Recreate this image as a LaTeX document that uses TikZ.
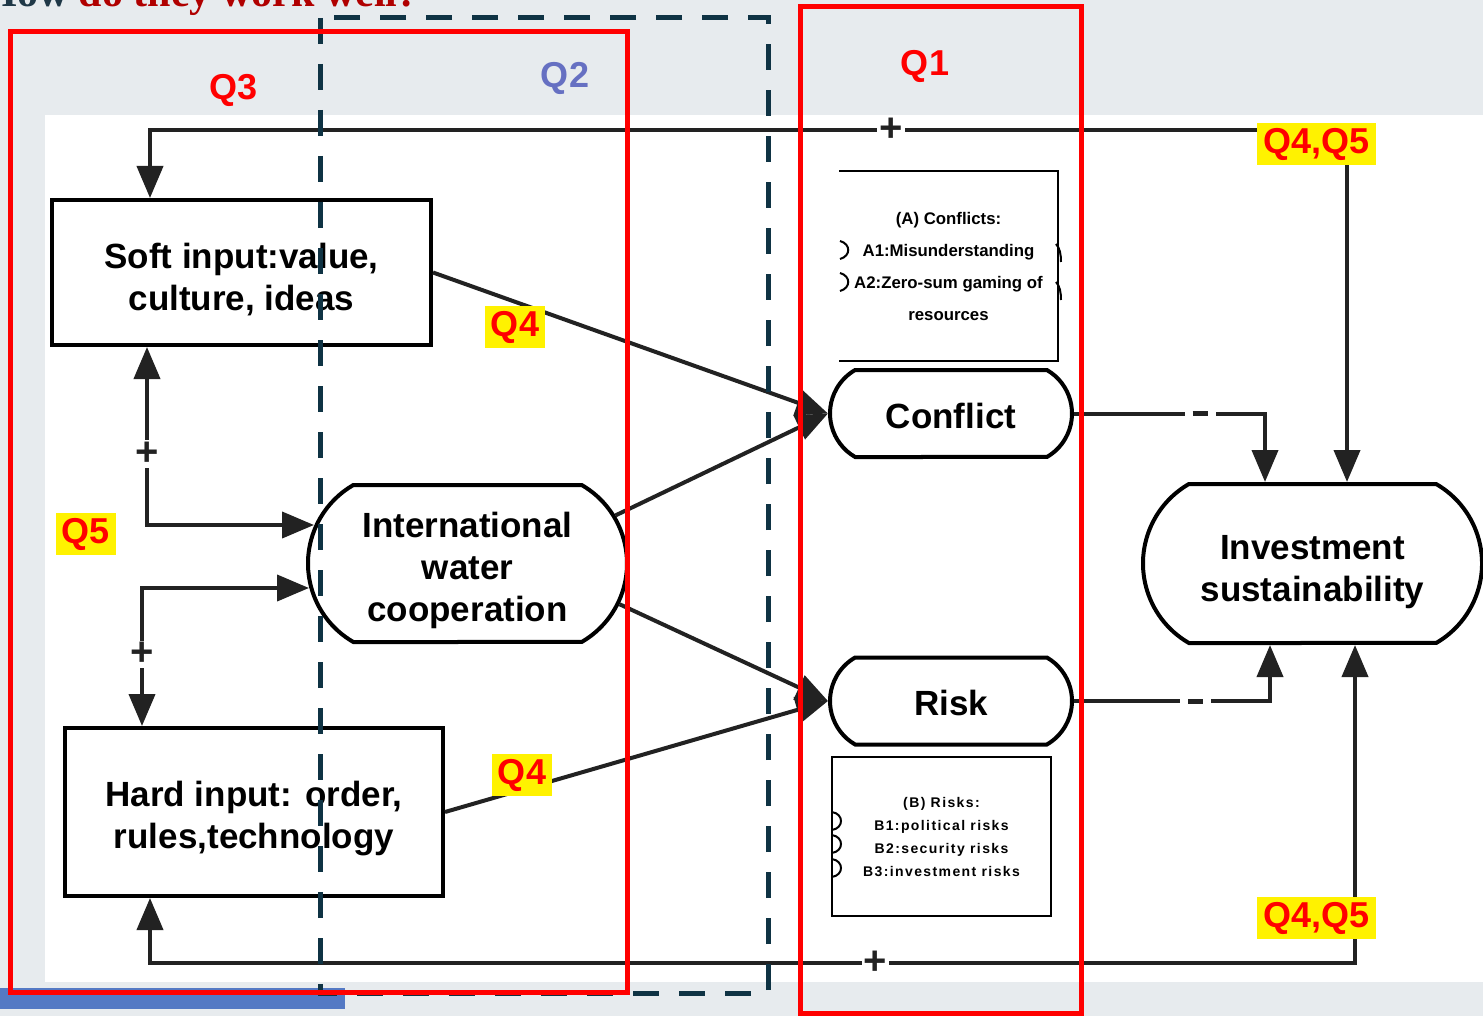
\documentclass[tikz,border=0pt]{standalone}
\usepackage{fontspec}
\setmainfont{Liberation Sans}
\newfontfamily\titleserif{Liberation Serif}
\newfontfamily\spacedsans[LetterSpace=10]{Liberation Sans}
\usetikzlibrary{shapes.misc,arrows.meta,calc}
\definecolor{bggray}{HTML}{E7EBEE}
\definecolor{navyd}{HTML}{0F3344}
\definecolor{qred}{HTML}{FF0000}
\definecolor{qblue}{RGB}{102,112,194}
\definecolor{linec}{HTML}{222222}
\definecolor{barblue}{RGB}{84,121,196}
\definecolor{titlered}{HTML}{B00000}
\definecolor{titlenavy}{HTML}{1F3847}
\tikzset{
  box/.style={draw=black, line width=2pt, fill=white, inner sep=0pt, align=center, font=\fontsize{17.5}{21}\selectfont\bfseries},
  stadium/.style={box, rounded rectangle, rounded rectangle arc length=120},
  notebox/.style={line width=1pt, fill=white, inner sep=0pt, align=center},
  conn/.style={draw=linec, line width=2pt, -{Triangle[length=16pt,width=13pt]}},
  biconn/.style={draw=linec, line width=2pt, {Triangle[length=16pt,width=13pt]}-{Triangle[length=16pt,width=13pt]}},
  plus/.style={fill=white, inner sep=1pt, font=\fontsize{20}{20}\selectfont\bfseries, text=linec},
  minus/.style={fill=white, inner xsep=4pt, inner ysep=2pt},
  qlabel/.style={font=\fontsize{18}{18}\selectfont\bfseries, text=qred, inner sep=1pt},
  qhl/.style={qlabel, fill=yellow, minimum height=21pt, inner xsep=3pt},
  frame/.style={line width=2.5pt},
  bump/.style={draw=black, line width=1pt},
}
\newcommand{\minusmark}{\textcolor{linec}{\rule[-1.5pt]{7.5pt}{2.5pt}}}
\newcommand{\tdown}[1]{\rule{0pt}{#1}}
\begin{document}
\begin{tikzpicture}[x=0.5pt,y=-0.5pt]
\useasboundingbox (0,0) rectangle (1483,1016);
\clip (0,0) rectangle (1483,1016);
\fill[bggray] (0,0) rectangle (1483,1016);
\fill[white] (45,115) rectangle (1483,982);

% title (cut off at top)
\node[anchor=base west, inner sep=0pt, font=\titleserif\fontsize{21}{21}\selectfont\bfseries] (title) at (-16,7)
  {\textcolor{titlenavy}{How} \textcolor{titlered}{do they work well?}};

% main nodes
\node[box, minimum width=189.5pt, minimum height=72.5pt] (soft) at (241.5,272.5) {\tdown{19.5pt}Soft input:value,\\culture, ideas};
\node[box, minimum width=189pt, minimum height=84pt] (hard) at (254,812) {\tdown{19.5pt}Hard input: order,\\rules,technology};
\node[stadium, minimum width=159.5pt, minimum height=78.5pt] (iwc) at (467.5,563.5) {\tdown{19.8pt}International\\water\\cooperation};
\node[stadium, minimum width=121pt, minimum height=43.5pt] (conf) at (951,413.5) {\tdown{14.8pt}Conflict};
\node[stadium, minimum width=121pt, minimum height=43.5pt] (risk) at (951,701) {\tdown{14.8pt}Risk};
\node[stadium, minimum width=169.5pt, minimum height=79.5pt] (inv) at (1312.5,563.5) {\tdown{20.5pt}Investment\\sustainability};

% note boxes
\node[notebox, minimum width=108.5pt, minimum height=94pt, font=\fontsize{8.4}{16}\selectfont\bfseries] (cbox) at (948.5,266)
  {(A) Conflicts:\\A1:Misunderstanding\\A2:Zero-sum gaming of\\resources};
\draw[bump] (cbox.north west) -- (cbox.north east) -- (cbox.south east) -- (cbox.south west);
\draw[bump] (840,241) .. controls (851,244) and (851,256) .. (840,259);
\draw[bump] (840,273) .. controls (851,276) and (851,288) .. (840,291);
\draw[bump] (1056,244) .. controls (1060,248) and (1061,255) .. (1061,262);
\draw[bump] (1056,282) .. controls (1060,286) and (1061,293) .. (1061,300);

\node[notebox, draw=black, minimum width=109.5pt, minimum height=79.5pt, font=\spacedsans\fontsize{7}{11.5}\selectfont\bfseries] (rbox) at (941.5,836.5)
  {(B) Risks:\\B1:political risks\\B2:security risks\\B3:investment risks};
\draw[bump] (832,812) .. controls (844,814) and (844,828) .. (832,830);
\draw[bump] (832,835) .. controls (844,837) and (844,851) .. (832,853);
\draw[bump] (832,859) .. controls (844,861) and (844,875) .. (832,877);

% loop coordinates
\coordinate (tl) at (150,130);
\coordinate (tr) at (1347,130);
\coordinate (bl) at (150,963);
\coordinate (br) at (1355,963);
\coordinate (sl) at (147,525);
\coordinate (hl) at (142,588);
\coordinate (c1) at (1265,413.5);
\coordinate (r1) at (1270,701);

% feedback loops
\draw[biconn] (soft.north -| tl) -- (tl) -- node[plus, pos=0.619]{+} (tr) -- (inv.north -| tr);
\draw[biconn] (hard.south -| bl) -- (bl) -- node[plus, pos=0.602]{+} (br) -- (inv.south -| br);
\draw[biconn] (soft.south -| sl) -- node[plus, pos=0.6]{+} (sl) -- ($(iwc.west |- sl)+(8,0)$);
\draw[biconn] (hard.north -| hl) -- node[plus, pos=0.52]{+} (hl) -- ($(iwc.west |- hl)+(3,0)$);

% influence arrows
\draw[conn] (soft.east) -- (conf.west);
\draw[conn] (iwc.18) -- (conf.west);
\draw[conn] (iwc.-15) -- (risk.west);
\draw[conn] (hard.east) -- (risk.west);
\draw[conn] (conf.east) -- node[minus, pos=0.66]{\minusmark} (c1) -- (inv.north -| c1);
\draw[conn] (risk.east) -- node[minus, pos=0.62]{\minusmark} (r1) -- (inv.south -| r1);

% question labels
\node[qlabel] (q3) at (234,90) {Q3};
\node[qlabel, text=qblue] (q2) at (565,78) {Q2};
\node[qlabel] (q1) at (925,66) {Q1};
\node[qhl] (q45a) at (1316.5,144) {Q4,Q5};
\node[qhl] (q45b) at (1316.5,918) {Q4,Q5};
\node[qhl] (q4a) at (515,327) {Q4};
\node[qhl] (q4b) at (522,775) {Q4};
\node[qhl] (q5) at (86,534) {Q5};

% bottom bar
\fill[barblue] (0,988) rectangle (345,1009);

% frames
\draw[frame, navyd, dash pattern=on 13pt off 10pt] (320,18) rectangle (768,993);
\draw[frame, qred] (10,32) rectangle (627,992);
\draw[frame, qred] (800,7) rectangle (1081,1013);
\end{tikzpicture}
\end{document}
